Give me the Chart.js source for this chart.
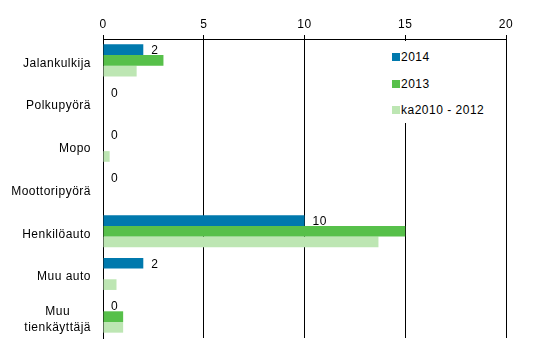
<!DOCTYPE html>
<html>
<head>
<meta charset="utf-8">
<script src="https://cdn.jsdelivr.net/npm/chart.js@4"></script>
<style>
  body { margin: 0; background: #fff; }
  #wrap { position: relative; width: 548px; height: 362px; }
  #legend {
    position: absolute; left: 388px; top: 41px; width: 104px; height: 82px;
    background: #fff; font: 12px "Liberation Sans", Arial, sans-serif; color: #000;
    letter-spacing: 0.5px;
  }
  #legend div { position: absolute; left: 4px; height: 14px; line-height: 14px; white-space: nowrap; }
  #legend span { display: inline-block; width: 8px; height: 8px; margin-right: 1px; vertical-align: 0px; }
</style>
</head>
<body>
<div id="wrap">
  <canvas id="c" width="548" height="362"></canvas>
  <div id="legend"></div>
</div>
<script>
// categories and series
const categories = ['Jalankulkija', 'Polkupyörä', 'Mopo', 'Moottoripyörä', 'Henkilöauto', 'Muu auto', ['Muu', 'tienkäyttäjä']];
const seriesNames = ['2014', '2013', 'ka2010 - 2012'];
const values2014 = [2, 0, 0, 0, 10, 2, 0];
const values2013 = [3, 0, 0, 0, 15, 0, 1];
const valuesAvg = [1.67, 0, 0.33, 0, 13.67, 0.67, 1];
const xTicks = [0, 5, 10, 15, 20];

const colors = ['#0079AD', '#57C04A', '#BDE6B3'];
const fontFamily = '"Liberation Sans", Arial, sans-serif';

// wider text spacing like the original
const spacing = {
    id: 'spacing',
    beforeDraw(chart) { chart.ctx.letterSpacing = '0.5px'; }
};

// category labels: right aligned block, multi-line labels centred inside it
const categoryLabels = {
    id: 'categoryLabels',
    afterDraw(chart) {
        const ctx = chart.ctx;
        const y = chart.scales.y;
        const right = chart.chartArea.left - 12;
        ctx.save();
        ctx.letterSpacing = '0.5px';
        ctx.font = '12px ' + fontFamily;
        ctx.fillStyle = '#000';
        ctx.textBaseline = 'middle';
        categories.forEach((label, i) => {
            const cy = y.getPixelForTick(i) + 3;
            const lines = Array.isArray(label) ? label : [label];
            const w = Math.max(...lines.map(l => ctx.measureText(l).width));
            const cx = right - w / 2;
            ctx.textAlign = 'center';
            lines.forEach((l, j) => {
                ctx.fillText(l, cx, cy + (j - (lines.length - 1) / 2) * 16);
            });
        });
        ctx.restore();
    }
};

// labels for the 2014 series, just right of the bar end
const valueLabels = {
    id: 'valueLabels',
    afterDatasetsDraw(chart) {
        const ctx = chart.ctx;
        const meta = chart.getDatasetMeta(0);
        ctx.save();
        ctx.letterSpacing = '0.5px';
        ctx.font = '12px ' + fontFamily;
        ctx.fillStyle = '#000';
        ctx.textAlign = 'left';
        ctx.textBaseline = 'middle';
        meta.data.forEach((bar, i) => {
            ctx.fillText(String(values2014[i]), bar.x + 8, bar.y + 1);
        });
        ctx.restore();
    }
};

new Chart(document.getElementById('c').getContext('2d'), {
    type: 'bar',
    data: {
        labels: categories,
        datasets: [
            { label: seriesNames[0], data: values2014, backgroundColor: colors[0] },
            { label: seriesNames[1], data: values2013, backgroundColor: colors[1] },
            { label: seriesNames[2], data: valuesAvg, backgroundColor: colors[2] }
        ]
    },
    options: {
        indexAxis: 'y',
        responsive: false,
        animation: false,
        layout: { padding: { left: 0, top: 0, right: 42, bottom: 24 } },
        datasets: { bar: { categoryPercentage: 0.75, barPercentage: 1 } },
        plugins: { legend: { display: false }, tooltip: { enabled: false } },
        scales: {
            x: {
                position: 'top',
                min: 0,
                max: 20,
                afterBuildTicks: s => { s.ticks = xTicks.map(v => ({ value: v })); },
                afterFit: s => { s.height = 39; },
                ticks: { color: '#000', font: { size: 12, family: fontFamily }, padding: 3 },
                grid: { color: '#000', lineWidth: 1, tickLength: 4 },
                border: { color: '#000' }
            },
            y: {
                afterFit: s => { s.width = 103; },
                ticks: { display: false },
                grid: { display: false, drawTicks: false },
                border: { color: '#000' }
            }
        }
    },
    plugins: [spacing, categoryLabels, valueLabels]
});

// legend
const legend = document.getElementById('legend');
seriesNames.forEach((name, i) => {
    const item = document.createElement('div');
    item.style.top = (9 + i * 26.5) + 'px';
    item.innerHTML = `<span style="background:${colors[i]}"></span>${name}`;
    legend.appendChild(item);
});
</script>
</body>
</html>
